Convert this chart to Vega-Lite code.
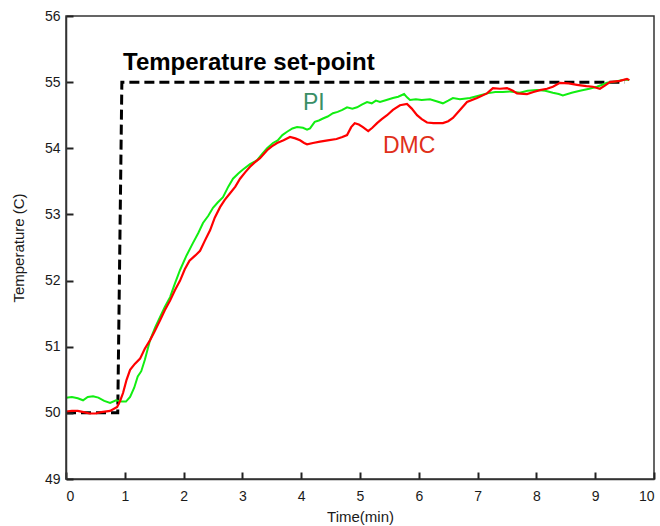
{
  "$schema": "https://vega.github.io/schema/vega-lite/v6.json",
  "width": 588,
  "height": 463,
  "autosize": {"type": "none"},
  "padding": {"left": 66, "top": 16, "right": 6, "bottom": 47},
  "background": "white",
  "config": {
    "view": {"stroke": "#333333", "strokeWidth": 1.5},
    "font": "Liberation Sans"
  },
  "datasets": {
    "sp": [
      {"t": 0.0, "temp": 50.0},
      {"t": 0.88, "temp": 50.0},
      {"t": 0.95, "temp": 55.0},
      {"t": 9.5, "temp": 55.0}
    ],
    "pi": [
      {"t": 0.0, "temp": 50.23}, {"t": 0.1, "temp": 50.24}, {"t": 0.2, "temp": 50.22}, {"t": 0.29, "temp": 50.19},
      {"t": 0.37, "temp": 50.24}, {"t": 0.46, "temp": 50.25}, {"t": 0.55, "temp": 50.23}, {"t": 0.65, "temp": 50.18},
      {"t": 0.75, "temp": 50.15}, {"t": 0.85, "temp": 50.19}, {"t": 0.95, "temp": 50.17}, {"t": 1.02, "temp": 50.17},
      {"t": 1.09, "temp": 50.24}, {"t": 1.16, "temp": 50.38}, {"t": 1.22, "temp": 50.55}, {"t": 1.28, "temp": 50.63},
      {"t": 1.34, "temp": 50.8}, {"t": 1.43, "temp": 51.1}, {"t": 1.52, "temp": 51.3}, {"t": 1.6, "temp": 51.45},
      {"t": 1.68, "temp": 51.6}, {"t": 1.77, "temp": 51.75}, {"t": 1.85, "temp": 51.95}, {"t": 1.94, "temp": 52.16},
      {"t": 2.05, "temp": 52.38}, {"t": 2.16, "temp": 52.57}, {"t": 2.25, "temp": 52.72}, {"t": 2.33, "temp": 52.87},
      {"t": 2.42, "temp": 52.98}, {"t": 2.5, "temp": 53.1}, {"t": 2.58, "temp": 53.18}, {"t": 2.67, "temp": 53.26},
      {"t": 2.76, "temp": 53.42}, {"t": 2.84, "temp": 53.54}, {"t": 2.93, "temp": 53.62}, {"t": 3.01, "temp": 53.68},
      {"t": 3.13, "temp": 53.76}, {"t": 3.25, "temp": 53.82}, {"t": 3.34, "temp": 53.92}, {"t": 3.42, "temp": 54.0},
      {"t": 3.52, "temp": 54.08}, {"t": 3.6, "temp": 54.12}, {"t": 3.68, "temp": 54.2}, {"t": 3.76, "temp": 54.25},
      {"t": 3.85, "temp": 54.3}, {"t": 3.93, "temp": 54.32}, {"t": 4.03, "temp": 54.31}, {"t": 4.1, "temp": 54.28},
      {"t": 4.15, "temp": 54.3}, {"t": 4.23, "temp": 54.4}, {"t": 4.3, "temp": 54.42}, {"t": 4.37, "temp": 54.45},
      {"t": 4.45, "temp": 54.48}, {"t": 4.54, "temp": 54.53}, {"t": 4.62, "temp": 54.55}, {"t": 4.7, "temp": 54.58},
      {"t": 4.78, "temp": 54.62}, {"t": 4.87, "temp": 54.6}, {"t": 4.95, "temp": 54.62}, {"t": 5.03, "temp": 54.66},
      {"t": 5.12, "temp": 54.7}, {"t": 5.2, "temp": 54.68}, {"t": 5.27, "temp": 54.72}, {"t": 5.34, "temp": 54.7},
      {"t": 5.45, "temp": 54.73}, {"t": 5.56, "temp": 54.76}, {"t": 5.65, "temp": 54.78}, {"t": 5.75, "temp": 54.82},
      {"t": 5.8, "temp": 54.77}, {"t": 5.85, "temp": 54.73}, {"t": 5.95, "temp": 54.74}, {"t": 6.05, "temp": 54.73},
      {"t": 6.19, "temp": 54.74}, {"t": 6.3, "temp": 54.71}, {"t": 6.41, "temp": 54.68}, {"t": 6.5, "temp": 54.72},
      {"t": 6.58, "temp": 54.76}, {"t": 6.7, "temp": 54.74}, {"t": 6.87, "temp": 54.76}, {"t": 7.0, "temp": 54.79},
      {"t": 7.16, "temp": 54.83}, {"t": 7.3, "temp": 54.85}, {"t": 7.43, "temp": 54.85}, {"t": 7.55, "temp": 54.86},
      {"t": 7.72, "temp": 54.84}, {"t": 7.85, "temp": 54.87}, {"t": 8.01, "temp": 54.88}, {"t": 8.15, "temp": 54.87},
      {"t": 8.28, "temp": 54.84}, {"t": 8.38, "temp": 54.82}, {"t": 8.45, "temp": 54.8}, {"t": 8.6, "temp": 54.84},
      {"t": 8.74, "temp": 54.87}, {"t": 8.9, "temp": 54.9}, {"t": 9.03, "temp": 54.93}, {"t": 9.12, "temp": 54.96},
      {"t": 9.2, "temp": 54.99}, {"t": 9.35, "temp": 55.01}, {"t": 9.45, "temp": 55.03}, {"t": 9.54, "temp": 55.04},
      {"t": 9.58, "temp": 55.03}
    ],
    "dmc": [
      {"t": 0.0, "temp": 50.02}, {"t": 0.1, "temp": 50.03}, {"t": 0.2, "temp": 50.03}, {"t": 0.3, "temp": 50.01},
      {"t": 0.4, "temp": 49.99}, {"t": 0.5, "temp": 49.99}, {"t": 0.6, "temp": 50.01}, {"t": 0.75, "temp": 50.03},
      {"t": 0.87, "temp": 50.09}, {"t": 0.92, "temp": 50.18}, {"t": 0.97, "temp": 50.3}, {"t": 1.03, "temp": 50.5},
      {"t": 1.09, "temp": 50.65}, {"t": 1.17, "temp": 50.74}, {"t": 1.26, "temp": 50.82}, {"t": 1.34, "temp": 50.97},
      {"t": 1.43, "temp": 51.1}, {"t": 1.5, "temp": 51.22}, {"t": 1.6, "temp": 51.4}, {"t": 1.68, "temp": 51.55},
      {"t": 1.77, "temp": 51.7}, {"t": 1.85, "temp": 51.85}, {"t": 1.94, "temp": 52.0}, {"t": 2.02, "temp": 52.17},
      {"t": 2.1, "temp": 52.3}, {"t": 2.2, "temp": 52.38}, {"t": 2.28, "temp": 52.45}, {"t": 2.36, "temp": 52.6},
      {"t": 2.45, "temp": 52.76}, {"t": 2.53, "temp": 52.95}, {"t": 2.62, "temp": 53.11}, {"t": 2.7, "temp": 53.22},
      {"t": 2.79, "temp": 53.32}, {"t": 2.88, "temp": 53.42}, {"t": 2.96, "temp": 53.54}, {"t": 3.05, "temp": 53.64},
      {"t": 3.13, "temp": 53.72}, {"t": 3.2, "temp": 53.78}, {"t": 3.3, "temp": 53.85}, {"t": 3.42, "temp": 53.97},
      {"t": 3.5, "temp": 54.03}, {"t": 3.59, "temp": 54.08}, {"t": 3.7, "temp": 54.12}, {"t": 3.81, "temp": 54.17},
      {"t": 3.9, "temp": 54.15}, {"t": 3.98, "temp": 54.12}, {"t": 4.05, "temp": 54.08}, {"t": 4.1, "temp": 54.06},
      {"t": 4.2, "temp": 54.08}, {"t": 4.32, "temp": 54.1}, {"t": 4.45, "temp": 54.12}, {"t": 4.6, "temp": 54.14},
      {"t": 4.7, "temp": 54.17}, {"t": 4.78, "temp": 54.2}, {"t": 4.85, "temp": 54.32}, {"t": 4.91, "temp": 54.38},
      {"t": 4.98, "temp": 54.36}, {"t": 5.05, "temp": 54.32}, {"t": 5.14, "temp": 54.26}, {"t": 5.21, "temp": 54.31},
      {"t": 5.29, "temp": 54.38}, {"t": 5.37, "temp": 54.44}, {"t": 5.46, "temp": 54.5}, {"t": 5.56, "temp": 54.58},
      {"t": 5.68, "temp": 54.65}, {"t": 5.8, "temp": 54.67}, {"t": 5.88, "temp": 54.6}, {"t": 5.97, "temp": 54.5},
      {"t": 6.05, "temp": 54.44}, {"t": 6.14, "temp": 54.39}, {"t": 6.25, "temp": 54.38}, {"t": 6.41, "temp": 54.38},
      {"t": 6.5, "temp": 54.41}, {"t": 6.58, "temp": 54.46}, {"t": 6.7, "temp": 54.58}, {"t": 6.82, "temp": 54.7},
      {"t": 6.99, "temp": 54.76}, {"t": 7.16, "temp": 54.83}, {"t": 7.26, "temp": 54.91}, {"t": 7.38, "temp": 54.9},
      {"t": 7.5, "temp": 54.91}, {"t": 7.6, "temp": 54.87}, {"t": 7.67, "temp": 54.83}, {"t": 7.84, "temp": 54.82},
      {"t": 7.95, "temp": 54.85}, {"t": 8.06, "temp": 54.88}, {"t": 8.18, "temp": 54.9}, {"t": 8.28, "temp": 54.93},
      {"t": 8.4, "temp": 54.99}, {"t": 8.55, "temp": 54.98}, {"t": 8.69, "temp": 54.96}, {"t": 8.85, "temp": 54.94},
      {"t": 8.96, "temp": 54.93}, {"t": 9.08, "temp": 54.9}, {"t": 9.17, "temp": 54.95}, {"t": 9.25, "temp": 55.0},
      {"t": 9.42, "temp": 55.02}, {"t": 9.54, "temp": 55.05}, {"t": 9.58, "temp": 55.03}
    ],
    "title": [
      {"label": "Temperature set-point", "t": 0.97, "temp": 55.18}
    ],
    "labels": [
      {"label": "PI", "series": "pi", "t": 4.03, "temp": 54.58},
      {"label": "DMC", "series": "dmc", "t": 5.39, "temp": 53.93}
    ]
  },
  "encoding": {
    "x": {"field": "t", "type": "quantitative", "scale": {"domain": [0, 10], "nice": false},
      "axis": {"orient": "bottom", "title": "Time(min)", "values": [0,1,2,3,4,5,6,7,8,9,10],
        "grid": false, "domain": true, "domainColor": "#333333", "domainWidth": 1.5, "ticks": true, "tickSize": -7, "tickWidth": 2, "tickColor": "#222222", "zindex": 5,
        "labelPadding": 17, "titlePadding": 6, "labelFont": "Liberation Sans", "labelFontSize": 14, "labelColor": "#1a1a1a",
        "titleFont": "Liberation Sans", "titleFontSize": 15, "titleFontWeight": "normal", "titleColor": "#1a1a1a"}},
    "y": {"field": "temp", "type": "quantitative", "scale": {"domain": [49, 56], "nice": false, "zero": false},
      "axis": {"orient": "left", "title": "Temperature (C)", "values": [49,50,51,52,53,54,55,56],
        "grid": false, "domain": true, "domainColor": "#333333", "domainWidth": 1.5, "ticks": true, "tickSize": -7, "tickWidth": 2, "tickColor": "#222222", "zindex": 5,
        "labelPadding": 13, "titlePadding": 18, "labelFont": "Liberation Sans", "labelFontSize": 14, "labelColor": "#1a1a1a",
        "titleFont": "Liberation Sans", "titleFontSize": 15, "titleFontWeight": "normal", "titleColor": "#1a1a1a"}}
  },
  "layer": [
    {
      "data": {"name": "sp"},
      "mark": {"type": "line", "color": "black", "strokeWidth": 3, "strokeDash": [10, 5]}
    },
    {
      "data": {"name": "pi"},
      "mark": {"type": "line", "color": "#11ee11", "strokeWidth": 2}
    },
    {
      "data": {"name": "dmc"},
      "mark": {"type": "line", "color": "#ff0000", "strokeWidth": 2.2}
    },
    {
      "data": {"name": "title"},
      "mark": {"type": "text", "align": "left", "baseline": "alphabetic", "fontSize": 24, "fontWeight": "bold", "color": "#000000", "font": "Liberation Sans"},
      "encoding": {"text": {"field": "label"}}
    },
    {
      "data": {"name": "labels"},
      "mark": {"type": "text", "align": "left", "baseline": "alphabetic", "fontSize": 23, "font": "Liberation Sans"},
      "encoding": {
        "text": {"field": "label"},
        "color": {"field": "series", "type": "nominal", "legend": null,
          "scale": {"domain": ["pi", "dmc"], "range": ["#3a8f66", "#e0301a"]}}
      }
    }
  ]
}
